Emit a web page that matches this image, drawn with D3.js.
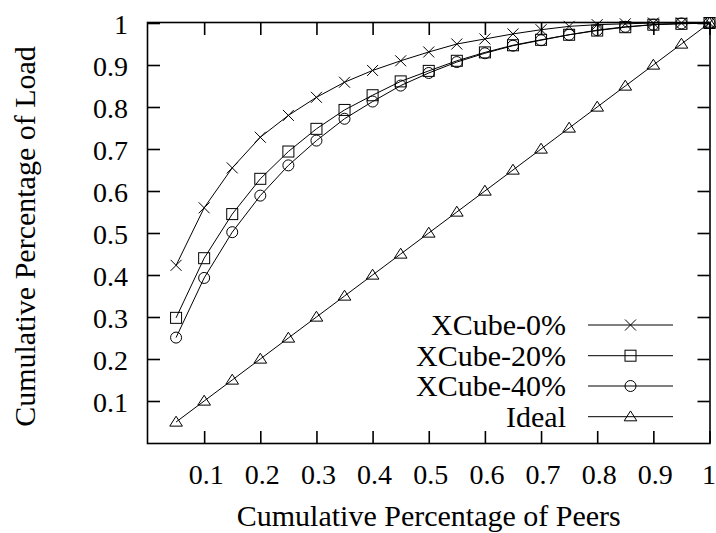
<!DOCTYPE html>
<html>
<head>
<meta charset="utf-8">
<script src="https://cdn.jsdelivr.net/npm/d3@7"></script>
<style>
  body { margin: 0; background: #fff; }
  svg { display: block; }
  text { font-family: "Liberation Serif", "Times New Roman", serif; fill: #000; }
</style>
</head>
<body>
<div id="chart"></div>
<script>
// x positions (fraction of peers)
const peers = [0.05, 0.1, 0.15, 0.2, 0.25, 0.3, 0.35, 0.4, 0.45, 0.5,
               0.55, 0.6, 0.65, 0.7, 0.75, 0.8, 0.85, 0.9, 0.95, 1.0];

const xcube0 = [0.423, 0.560, 0.655, 0.728, 0.780, 0.823, 0.859, 0.887, 0.910, 0.931,
                0.950, 0.962, 0.974, 0.984, 0.992, 0.996, 0.998, 1.0, 1.0, 1.0];
const xcube20 = [0.298, 0.440, 0.545, 0.629, 0.694, 0.748, 0.793, 0.828, 0.861, 0.886,
                 0.910, 0.930, 0.947, 0.960, 0.972, 0.982, 0.990, 0.996, 0.998, 1.0];
const xcube40 = [0.251, 0.393, 0.502, 0.589, 0.661, 0.720, 0.772, 0.813, 0.851, 0.881,
                 0.907, 0.928, 0.946, 0.959, 0.972, 0.983, 0.991, 0.996, 0.999, 1.0];
const ideal = [0.05, 0.1, 0.15, 0.2, 0.25, 0.3, 0.35, 0.4, 0.45, 0.5,
               0.55, 0.6, 0.65, 0.7, 0.75, 0.8, 0.85, 0.9, 0.95, 1.0];

const seriesNames = ["XCube-0%", "XCube-20%", "XCube-40%", "Ideal"];
const seriesMarks = ["cross", "square", "circle", "triangle"];
const tickValues = [0.1, 0.2, 0.3, 0.4, 0.5, 0.6, 0.7, 0.8, 0.9, 1];

const series = [xcube0, xcube20, xcube40, ideal].map((vals, i) => ({
    name: seriesNames[i],
    mark: seriesMarks[i],
    points: vals.map((v, j) => ({ x: peers[j], y: v }))
}));

const width = 716, height = 533;
const plotLeft = 148, plotRight = 709.5, plotTop = 23, plotBottom = 443;

const x = d3.scaleLinear().domain([0, 1]).range([plotLeft, plotRight]);
const y = d3.scaleLinear().domain([0, 1]).range([plotBottom, plotTop]);

const svg = d3.select("#chart").append("svg")
    .attr("width", width)
    .attr("height", height);

// frame
svg.append("rect")
    .attr("x", plotLeft - 0.5).attr("y", plotTop - 0.5)
    .attr("width", plotRight - plotLeft + 1).attr("height", plotBottom - plotTop + 1)
    .attr("fill", "none").attr("stroke", "#000").attr("stroke-width", 1.6);

const tickLen = 12;
const fmt = d => d3.format("")(d);

// bottom + top ticks
const gx = svg.append("g").attr("transform", `translate(0,${plotBottom})`)
    .call(d3.axisBottom(x).tickValues(tickValues).tickSizeInner(-tickLen).tickSizeOuter(0).tickFormat(fmt));
gx.select(".domain").remove();
gx.selectAll("line").attr("stroke-width", 1.6);
gx.selectAll("text").attr("font-size", 28).attr("dy", 0).attr("y", 41).attr("dx", 1.5);
// last label sits against the right edge
gx.selectAll("text").filter(d => d === 1).attr("text-anchor", "end").attr("dx", 6);

const gxTop = svg.append("g").attr("transform", `translate(0,${plotTop})`)
    .call(d3.axisTop(x).tickValues(tickValues).tickSizeInner(-tickLen).tickSizeOuter(0).tickFormat(""));
gxTop.select(".domain").remove();
gxTop.selectAll("line").attr("stroke-width", 1.6);

// left + right ticks
const gy = svg.append("g").attr("transform", `translate(${plotLeft},0)`)
    .call(d3.axisLeft(y).tickValues(tickValues).tickSizeInner(-tickLen).tickSizeOuter(0).tickFormat(fmt));
gy.select(".domain").remove();
gy.selectAll("line").attr("stroke-width", 1.6);
gy.selectAll("text").attr("font-size", 28).attr("x", -20).attr("dy", "0.36em");

const gyRight = svg.append("g").attr("transform", `translate(${plotRight},0)`)
    .call(d3.axisRight(y).tickValues(tickValues).tickSizeInner(-tickLen).tickSizeOuter(0).tickFormat(""));
gyRight.select(".domain").remove();
gyRight.selectAll("line").attr("stroke-width", 1.6);

// axis titles
svg.append("text")
    .attr("x", (plotLeft + plotRight) / 2).attr("y", 526)
    .attr("text-anchor", "middle").attr("font-size", 30)
    .text("Cumulative Percentage of Peers");

svg.append("text")
    .attr("transform", `translate(35,236.5) rotate(-90)`)
    .attr("text-anchor", "middle").attr("font-size", 30)
    .text("Cumulative Percentage of Load");

// marker drawing
function drawMark(g, type, cx, cy) {
    const s = 5.5;
    if (type === "cross") {
        g.append("path").attr("d", `M${cx - s},${cy - s}L${cx + s},${cy + s}M${cx - s},${cy + s}L${cx + s},${cy - s}`);
    } else if (type === "square") {
        g.append("rect").attr("x", cx - s).attr("y", cy - s).attr("width", 2 * s).attr("height", 2 * s);
    } else if (type === "circle") {
        g.append("circle").attr("cx", cx).attr("cy", cy).attr("r", s);
    } else {
        g.append("path").attr("d", `M${cx},${cy - s * 1.05}L${cx + s * 1.15},${cy + s * 0.75}L${cx - s * 1.15},${cy + s * 0.75}Z`);
    }
}

const line = d3.line().x(d => x(d.x)).y(d => y(d.y));

series.forEach(s => {
    const g = svg.append("g").attr("fill", "none").attr("stroke", "#000").attr("stroke-width", 1);
    g.append("path").attr("d", line(s.points));
    s.points.forEach(p => drawMark(g, s.mark, x(p.x), y(p.y)));
});

// legend
const legendY = [325, 355.7, 386, 416.7];
series.forEach((s, i) => {
    const ly = legendY[i];
    svg.append("text")
        .attr("x", 566).attr("y", ly).attr("dy", "0.34em")
        .attr("text-anchor", "end").attr("font-size", 30)
        .text(s.name);
    const g = svg.append("g").attr("fill", "none").attr("stroke", "#000").attr("stroke-width", 1);
    g.append("line").attr("x1", 588).attr("x2", 673).attr("y1", ly).attr("y2", ly);
    drawMark(g, s.mark, 630.5, ly);
});
</script>
</body>
</html>
